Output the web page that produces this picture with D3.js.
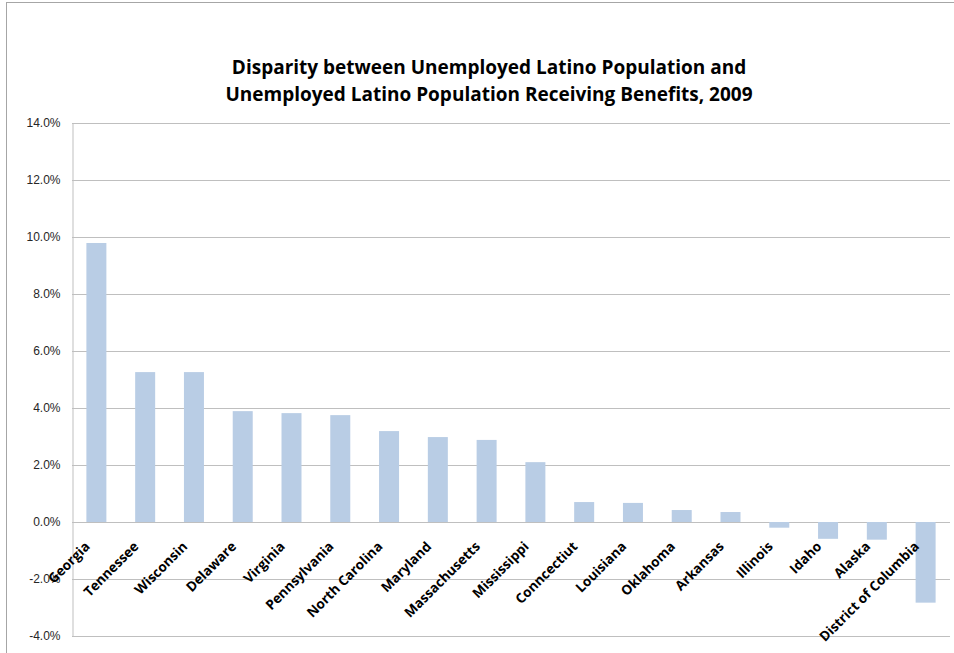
<!DOCTYPE html>
<html><head><meta charset="utf-8">
<script src="https://cdn.jsdelivr.net/npm/d3@7"></script>
<style>body{margin:0;background:#fff}svg{display:block}</style>
</head><body>
<svg id="c" width="954" height="653"></svg>
<script>
const states = ["Georgia","Tennessee","Wisconsin","Delaware","Virginia","Pennsylvania","North Carolina","Maryland","Massachusetts","Mississippi","Conncectiut","Louisiana","Oklahoma","Arkansas","Illinois","Idaho","Alaska","District of Columbia"];
const disparity = [9.79,5.26,5.26,3.89,3.82,3.75,3.19,2.98,2.88,2.10,0.70,0.67,0.42,0.35,-0.20,-0.59,-0.62,-2.83];
const yTicks = [-4,-2,0,2,4,6,8,10,12,14];
const titleLines = ["Disparity between Unemployed Latino Population and","Unemployed Latino Population Receiving Benefits, 2009"];

const svg = d3.select("#c");
const L = 72, R = 950, T = 123, B = 636;

svg.append("rect").attr("x",6.5).attr("y",2.5).attr("width",960).attr("height",700)
  .attr("fill","#fff").attr("stroke","#a6a6a6").attr("stroke-width",1);

const x = d3.scaleBand().domain(states).range([L,R]).paddingInner(0.59).paddingOuter(0.295);
const y = d3.scaleLinear().domain([-4,14]).range([B,T]);

// gridlines
svg.append("g").selectAll("line").data(yTicks).join("line")
  .attr("x1",L).attr("x2",R)
  .attr("y1",d=>Math.round(y(d))+0.5).attr("y2",d=>Math.round(y(d))+0.5)
  .attr("stroke","#bfbfbf").attr("stroke-width",1);

// y axis
const yAxis = d3.axisLeft(y).tickValues(yTicks).tickSize(0).tickPadding(12)
  .tickFormat(d=>d.toFixed(1)+"%");
const gy = svg.append("g").attr("transform",`translate(${L+0.5},0)`).call(yAxis);
gy.select(".domain").attr("stroke","#bfbfbf");
gy.selectAll("text").attr("font-family","Liberation Sans, Arial, sans-serif").attr("font-size",12).attr("fill","#262626");

// bars
svg.append("g").selectAll("rect").data(states).join("rect")
  .attr("x",d=>x(d)).attr("width",x.bandwidth())
  .attr("y",(d,i)=>y(Math.max(0,disparity[i])))
  .attr("height",(d,i)=>Math.abs(y(disparity[i])-y(0)))
  .attr("fill","#b9cde5");

// x labels
const xAxis = d3.axisBottom(x).tickSize(0).tickPadding(0);
const gx = svg.append("g").attr("transform",`translate(0,${y(0)})`).call(xAxis);
gx.select(".domain").remove();
gx.selectAll("text")
  .attr("font-family","Open Sans, sans-serif").attr("font-weight","bold").attr("font-size",13.5).attr("fill","#000")
  .attr("text-anchor","end")
  .attr("transform","translate(-9,22) rotate(-45)").attr("dy","0.35em");

// title
svg.append("g").selectAll("text").data(titleLines).join("text")
  .attr("x",489).attr("y",(d,i)=>74+i*27)
  .attr("text-anchor","middle")
  .attr("font-family","Open Sans, sans-serif").attr("font-weight","bold").attr("font-size",19).attr("fill","#000")
  .text(d=>d);
</script>
</body></html>
